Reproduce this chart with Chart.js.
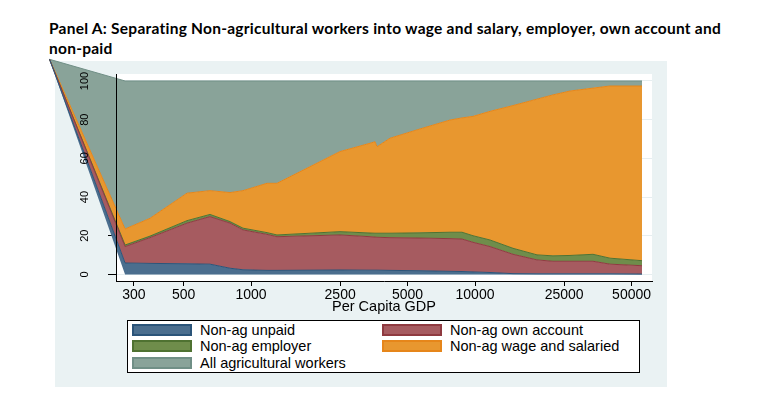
<!DOCTYPE html>
<html>
<head>
<meta charset="utf-8">
<script src="https://cdn.jsdelivr.net/npm/chart.js@4.4.1/dist/chart.umd.min.js"></script>
<style>
  html, body { margin: 0; padding: 0; background: #fff; }
  #wrap { position: relative; width: 768px; height: 394px; overflow: hidden; }
  #title { position: absolute; left: 49px; top: 18px; font: bold 15.5px Lato, sans-serif; letter-spacing: 0.25px; line-height: 20px; color: #000; white-space: nowrap; }
  #chart { position: absolute; left: 0; top: 0; }
  #legend { position: absolute; left: 127px; top: 320px; width: 513px; height: 53px; box-sizing: border-box; border: 1px solid #000; background: #fff; font: 14.5px "Liberation Sans", Arial, sans-serif; color: #000; }
  .item { position: absolute; height: 13px; }
  .sw { position: absolute; left: 0; top: 0; width: 60px; height: 12px; box-sizing: border-box; border: 2px solid; }
  .lb { position: absolute; left: 68px; top: -2px; line-height: 16px; white-space: nowrap; }
</style>
</head>
<body>
<div id="wrap">
  <div id="title">Panel A: Separating Non-agricultural workers into wage and salary, employer, own account and<br>non-paid</div>
  <canvas id="chart" width="768" height="394"></canvas>
  <div id="legend"></div>
</div>
<script>
// per capita GDP (log axis); first entry is the left edge point where the areas meet
const gdp = [126, 274, 354, 518, 656, 806, 921, 1179, 1306, 2496, 3398, 3578, 3652, 4174, 5682, 7733, 8750, 9795, 11670, 14780, 18920, 22290, 26550, 33640, 40060, 55660];
const leftEdge = [111.2, 0, 0, 0, 0, 0, 0, 0, 0, 0, 0, 0, 0, 0, 0, 0, 0, 0, 0, 0, 0, 0, 0, 0, 0, 0];
const unpaid = [0, 5.9, 5.7, 5.5, 5.3, 3.2, 2.4, 2.1, 2.1, 2.3, 2.2, 2.2, 2.2, 2.1, 1.9, 1.6, 1.5, 1.3, 1.0, 0.4, 0.3, 0.3, 0.3, 0.3, 0.3, 0.2];
const ownAccount = [0, 8.5, 13.3, 21.0, 24.6, 23.3, 20.6, 18.6, 17.4, 18.1, 17.3, 17.1, 17.0, 16.9, 16.9, 16.9, 16.8, 15.3, 13.4, 10.0, 7.2, 6.5, 6.5, 6.5, 5.0, 4.3];
const employer = [0, 0.8, 0.8, 1.3, 1.1, 0.8, 0.9, 0.9, 0.9, 1.7, 1.9, 2.0, 2.1, 2.3, 2.7, 3.3, 3.5, 3.4, 3.4, 3.1, 2.6, 2.8, 3.0, 3.6, 3.1, 2.6];
const wage = [0, 8.3, 9.2, 14.2, 12.3, 15.0, 19.4, 25.5, 26.7, 41.4, 46.4, 47.3, 44.7, 49.1, 53.7, 58.0, 59.1, 61.7, 66.5, 73.8, 80.5, 83.2, 85.0, 85.9, 89.0, 90.3];
const agricultural = [0, 76.5, 71.0, 58.0, 56.7, 57.7, 56.7, 52.9, 52.9, 36.5, 32.2, 31.4, 34.0, 29.6, 24.8, 20.2, 19.1, 18.3, 15.7, 12.7, 9.4, 7.2, 5.2, 3.7, 2.6, 2.6];

const xTicks = [300, 500, 1000, 2500, 5000, 10000, 25000, 50000];
const yTicks = [0, 20, 40, 60, 80, 100];

const series = [
  { label: 'Non-ag unpaid', values: unpaid, fill: '#4b6e8e', line: '#2b5479' },
  { label: 'Non-ag own account', values: ownAccount, fill: '#a65b60', line: '#8f3a40' },
  { label: 'Non-ag employer', values: employer, fill: '#6f8d4b', line: '#4f7231' },
  { label: 'Non-ag wage and salaried', values: wage, fill: '#e8972f', line: '#e6861a' },
  { label: 'All agricultural workers', values: agricultural, fill: '#89a399', line: '#708f86' }
];

const toPoints = vals => gdp.map((g, i) => ({ x: g, y: vals[i] }));

const datasets = [{
  label: 'edge',
  data: toPoints(leftEdge),
  borderWidth: 0,
  pointRadius: 0,
  fill: false,
  clip: false
}].concat(series.map(s => ({
  label: s.label,
  data: toPoints(s.values),
  backgroundColor: s.fill,
  borderColor: s.line,
  borderWidth: 1,
  pointRadius: 0,
  tension: 0,
  fill: '-1',
  clip: false
})));

// grey page panel + white plot region
const panels = {
  id: 'panels',
  beforeDraw(chart) {
    const ctx = chart.ctx, a = chart.chartArea;
    ctx.save();
    ctx.fillStyle = '#eaf2f3';
    ctx.fillRect(55, 61, 612, 326);
    ctx.fillStyle = '#fff';
    ctx.fillRect(a.left, a.top, a.right - a.left, a.bottom - a.top);
    ctx.restore();
  }
};

// let the area fills run past the plot region like the original
const openFill = {
  id: 'openFill',
  beforeDatasetsDraw(chart) {
    chart.$area = chart.chartArea;
    chart.chartArea = { left: 0, top: 0, right: chart.width, bottom: chart.height, width: chart.width, height: chart.height };
  },
  afterDatasetsDraw(chart) {
    chart.chartArea = chart.$area;
  }
};

const chart = new Chart(document.getElementById('chart'), {
  type: 'line',
  data: { datasets: datasets },
  options: {
    responsive: false,
    animation: false,
    devicePixelRatio: 1,
    layout: { padding: { left: 0, right: 116, top: 74, bottom: 73 } },
    plugins: { legend: { display: false }, tooltip: { enabled: false } },
    scales: {
      x: {
        type: 'logarithmic',
        min: 249.6,
        max: 61690,
        afterBuildTicks: s => { s.ticks = xTicks.map(v => ({ value: v })); },
        afterFit: s => { s.height = 40; },
        ticks: {
          autoSkip: false, maxRotation: 0, padding: 1, color: '#000',
          font: { family: '"Liberation Sans", Arial, sans-serif', size: 14 },
          callback: v => String(v)
        },
        grid: { drawOnChartArea: false, tickLength: 5, tickColor: '#000' },
        border: { display: true, color: '#000', width: 1 },
        title: {
          display: true, text: 'Per Capita GDP', color: '#000',
          font: { family: '"Liberation Sans", Arial, sans-serif', size: 14.5 },
          padding: { top: 0, bottom: 5 }
        }
      },
      y: {
        stacked: true,
        min: -3.4,
        max: 103.6,
        afterBuildTicks: s => { s.ticks = yTicks.map(v => ({ value: v })); },
        afterFit: s => { s.width = 116; },
        ticks: {
          z: 1,
          minRotation: 90, maxRotation: 90, crossAlign: 'center', padding: 14, color: '#000',
          font: { family: '"Liberation Sans", Arial, sans-serif', size: 11 }
        },
        grid: { color: '#e6eef0', lineWidth: 1, tickLength: 8, tickColor: '#000' },
        border: { display: true, color: '#000', width: 1, z: 1 }
      }
    }
  },
  plugins: [panels, openFill]
});

// two-column legend box built from the chart's datasets
const legend = document.getElementById('legend');
chart.data.datasets.slice(1).forEach((ds, i) => {
  const item = document.createElement('div');
  item.className = 'item';
  item.style.left = (i % 2 === 0 ? 4 : 254) + 'px';
  item.style.top = (3 + Math.floor(i / 2) * 16.3) + 'px';
  item.innerHTML = '<div class="sw" style="background:' + ds.backgroundColor + ';border-color:' + ds.borderColor + '"></div>' +
    '<div class="lb">' + ds.label + '</div>';
  legend.appendChild(item);
});
</script>
</body>
</html>
